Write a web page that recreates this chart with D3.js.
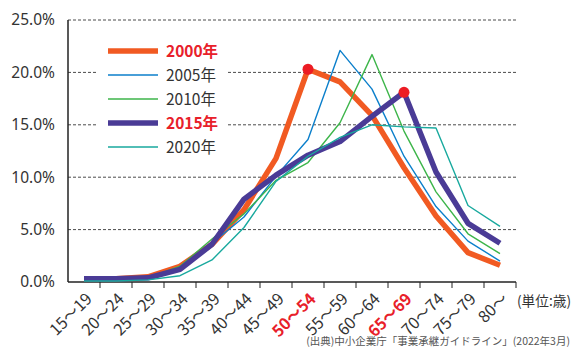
<!DOCTYPE html>
<html>
<head>
<meta charset="utf-8">
<script src="https://cdn.jsdelivr.net/npm/d3@7/dist/d3.min.js"></script>
<style>
  html, body { margin: 0; padding: 0; background: #fff; }
  svg { display: block; font-family: "Noto Sans CJK JP", "Noto Sans", sans-serif; }
</style>
</head>
<body>
<svg id="chart" width="573" height="349"></svg>
<script>
// Age brackets of SME owners
const categories = ["15～19", "20～24", "25～29", "30～34", "35～39", "40～44", "45～49",
                    "50～54", "55～59", "60～64", "65～69", "70～74", "75～79", "80～"];
const highlightedCategories = ["50～54", "65～69"];

// Share of owners in each bracket (%)
const y2000 = [0.3, 0.3, 0.5, 1.5, 3.6, 6.9, 11.8, 20.3, 19.1, 15.9, 10.9, 6.3, 2.8, 1.6];
const y2005 = [0.2, 0.2, 0.4, 1.1, 3.7, 6.2, 10.1, 13.6, 22.1, 18.4, 12.0, 7.2, 3.9, 2.0];
const y2010 = [0.2, 0.2, 0.4, 1.5, 4.1, 6.5, 9.7, 11.4, 15.2, 21.7, 14.4, 8.6, 4.6, 2.7];
const y2015 = [0.3, 0.3, 0.4, 1.2, 3.6, 7.9, 10.2, 12.1, 13.4, 15.8, 18.1, 10.5, 5.6, 3.7];
const y2020 = [0.1, 0.1, 0.2, 0.6, 2.1, 5.2, 9.6, 12.0, 13.8, 15.0, 14.8, 14.7, 7.3, 5.3];

const seriesNames = ["2000年", "2005年", "2010年", "2015年", "2020年"];
const yTicks = [0, 5, 10, 15, 20, 25];

const series = [
  { name: seriesNames[0], values: y2000, color: "#f15a22", width: 5.5, bold: true, peak: "50～54" },
  { name: seriesNames[1], values: y2005, color: "#0b7fcb", width: 1.4 },
  { name: seriesNames[2], values: y2010, color: "#3db54a", width: 1.4 },
  { name: seriesNames[3], values: y2015, color: "#4a3b96", width: 5.5, bold: true, peak: "65～69" },
  { name: seriesNames[4], values: y2020, color: "#18a99e", width: 1.4 }
];

const svg = d3.select("#chart");
const plotLeft = 68, plotRight = 516, plotTop = 20, plotBottom = 282;

const x = d3.scaleBand().domain(categories).range([plotLeft, plotRight]).padding(0);
const cx = c => x(c) + x.bandwidth() / 2;
const y = d3.scaleLinear().domain([0, 25]).range([plotBottom, plotTop]);

// Dashed horizontal gridlines
svg.append("g")
  .selectAll("line")
  .data(yTicks.filter(t => t > 0))
  .join("line")
  .attr("x1", plotLeft).attr("x2", plotRight)
  .attr("y1", d => y(d)).attr("y2", d => y(d))
  .attr("stroke", "#4a4a4a")
  .attr("stroke-width", 1)
  .attr("stroke-dasharray", "3,2");

// Y axis labels and line
const yAxis = d3.axisLeft(y).tickValues(yTicks).tickFormat(d => d3.format(".1f")(d) + "%").tickSize(0).tickPadding(13);
const gy = svg.append("g").attr("transform", `translate(${plotLeft},0)`).call(yAxis);
gy.select(".domain").remove();
gy.selectAll("text").attr("font-size", 15.5).attr("fill", "#333").attr("font-family", "'Noto Sans', sans-serif");

svg.append("line")
  .attr("x1", plotLeft).attr("x2", plotLeft).attr("y1", plotTop).attr("y2", plotBottom)
  .attr("stroke", "#222").attr("stroke-width", 1.5);

// X axis baseline with ticks on bracket boundaries
svg.append("line")
  .attr("x1", plotLeft).attr("x2", plotRight).attr("y1", plotBottom).attr("y2", plotBottom)
  .attr("stroke", "#222").attr("stroke-width", 1.5);
svg.append("g")
  .selectAll("line")
  .data(categories)
  .join("line")
  .attr("x1", d => x(d) + x.bandwidth()).attr("x2", d => x(d) + x.bandwidth())
  .attr("y1", plotBottom).attr("y2", plotBottom + 6)
  .attr("stroke", "#222").attr("stroke-width", 1);

// Rotated bracket labels
svg.append("g")
  .selectAll("text")
  .data(categories)
  .join("text")
  .attr("transform", d => `translate(${cx(d) + 5},${plotBottom + 14}) rotate(-45)`)
  .attr("text-anchor", "end")
  .attr("dy", "0.35em")
  .attr("font-size", 16)
  .attr("font-weight", d => highlightedCategories.includes(d) ? "bold" : "normal")
  .attr("fill", d => highlightedCategories.includes(d) ? "#e8202a" : "#333")
  .text(d => d);

svg.append("text")
  .attr("x", 517).attr("y", 301)
  .attr("dy", "0.35em")
  .attr("font-size", 14)
  .attr("textLength", 54)
  .attr("lengthAdjust", "spacingAndGlyphs")
  .attr("fill", "#333")
  .text("(単位:歳)");

// Legend panel sits over the gridlines
const legend = svg.append("g");
legend.append("rect")
  .attr("x", 98).attr("y", 36).attr("width", 129).attr("height", 124)
  .attr("fill", "#fff");
series.forEach((s, i) => {
  const ly = 51 + i * 24;
  legend.append("line")
    .attr("x1", 108).attr("x2", 158).attr("y1", ly).attr("y2", ly)
    .attr("stroke", s.color).attr("stroke-width", s.bold ? 5.5 : 1.6);
  legend.append("text")
    .attr("x", 166).attr("y", ly).attr("dy", "0.36em")
    .attr("font-size", 15.5)
    .attr("font-weight", s.bold ? "bold" : "normal")
    .attr("fill", s.bold ? "#e8202a" : "#333")
    .text(s.name);
});

// Series lines
const line = d3.line()
  .x((d, i) => cx(categories[i]))
  .y(d => y(d));

svg.append("g")
  .selectAll("path")
  .data(series)
  .join("path")
  .attr("d", s => line(s.values))
  .attr("fill", "none")
  .attr("stroke", s => s.color)
  .attr("stroke-width", s => s.width)
  .attr("stroke-linejoin", "round");

// Peak markers
svg.append("g")
  .selectAll("circle")
  .data(series.filter(s => s.peak))
  .join("circle")
  .attr("cx", s => cx(s.peak))
  .attr("cy", s => y(s.values[categories.indexOf(s.peak)]))
  .attr("r", 5.5)
  .attr("fill", "#ec1c24");

// Source note
svg.append("text")
  .attr("x", 570).attr("y", 341)
  .attr("dy", "0.35em")
  .attr("text-anchor", "end")
  .attr("font-size", 10.5)
  .attr("fill", "#555")
  .text("(出典)中小企業庁「事業承継ガイドライン」(2022年3月)");
</script>
</body>
</html>
